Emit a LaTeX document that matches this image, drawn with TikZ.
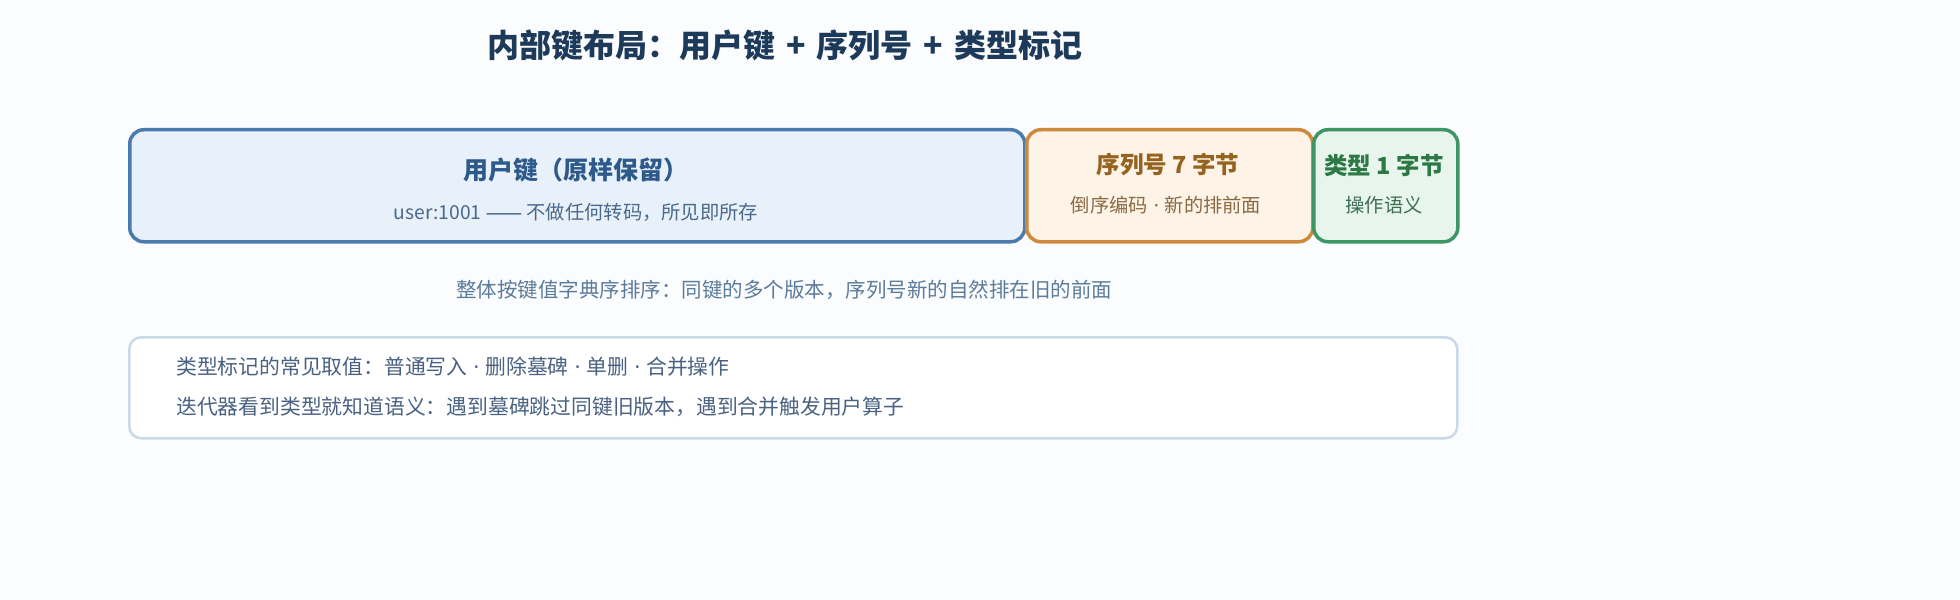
\documentclass[tikz,border=0pt]{standalone}
\usepackage{fontspec}
\setmainfont{Noto Sans CJK SC}
\newfontfamily\dotfont{Noto Sans}
\usetikzlibrary{positioning}
\definecolor{bgc}{HTML}{FBFCFE}
\definecolor{titlec}{HTML}{1E3A5A}
\definecolor{ukborder}{HTML}{4A7BAC}
\definecolor{ukfill}{HTML}{E8F0F9}
\definecolor{uktitle}{HTML}{2D5A8A}
\definecolor{uksub}{HTML}{4A6A8C}
\definecolor{sqborder}{HTML}{CD8A3E}
\definecolor{sqfill}{HTML}{FDF3E6}
\definecolor{sqtitle}{HTML}{95621F}
\definecolor{sqsub}{HTML}{8A6A45}
\definecolor{tyborder}{HTML}{3E9565}
\definecolor{tyfill}{HTML}{E7F5EC}
\definecolor{tytitle}{HTML}{2E7845}
\definecolor{tysub}{HTML}{3E6E52}
\definecolor{noteborder}{HTML}{C9D9E7}
\definecolor{notefill}{HTML}{FFFFFF}
\definecolor{notetext}{HTML}{4A6282}
\definecolor{captc}{HTML}{5B7B9B}
\newcommand{\fsz}[1]{\fontsize{#1bp}{#1bp}\selectfont}
\newcommand{\md}{\hspace{0.3em}{\dotfont ·}\hspace{0.3em}}
\begin{document}
\begin{tikzpicture}[x=1bp,y=-1bp,
  fieldbox/.style={draw, line width=3.5bp, rounded corners=14bp, inner sep=0pt, anchor=north west},
  notebox/.style={draw=noteborder, fill=notefill, line width=2.5bp, rounded corners=12bp, inner sep=0pt, anchor=north west},
  ftitle/.style={font=\fsz{23.5}\bfseries, inner sep=0pt, anchor=center},
  fsub/.style={font=\fsz{19.3}, inner sep=0pt, anchor=center},
  noteline/.style={font=\fsz{20.8}, text=notetext, inner sep=0pt, anchor=west}]
\fill[bgc] (0,0) rectangle (1960,600);
\useasboundingbox (0,0) rectangle (1960,600);

\node[font=\fsz{32}\bfseries, text=titlec, inner sep=0pt] (title) at (785,45) {内部键布局：用户键\hspace{11bp}+\hspace{11bp}序列号\hspace{11bp}+\hspace{11bp}类型标记};

\node[fieldbox, draw=ukborder, fill=ukfill, minimum width=895bp, minimum height=112bp] (uk) at (128,128) {};
\node[fieldbox, draw=sqborder, fill=sqfill, minimum width=286bp, minimum height=112bp] (sq) at (1025,128) {};
\node[fieldbox, draw=tyborder, fill=tyfill, minimum width=144bp, minimum height=112bp] (ty) at (1312,128) {};

\node[ftitle, font=\fsz{25}\bfseries, text=uktitle] (ukt) at (575.5,170) {用户键（原样保留）};
\node[fsub, text=uksub] (uks) at (576,212) {user:1001 {\dotfont —\kern-0.12em—} 不做任何转码，所见即所存};

\node[ftitle, text=sqtitle] (sqt) at (1168,165) {序列号 7 字节};
\node[fsub, text=sqsub] (sqs) at (1166,205) {倒序编码\md 新的排前面};

\node[ftitle, text=tytitle] (tyt) at (1384,165) {类型 1 字节};
\node[fsub, text=tysub] (tys) at (1384,205) {操作语义};

\node[font=\fsz{20.5}, text=captc, inner sep=0pt] (cap) at (784,290) {整体按键值字典序排序：同键的多个版本，序列号新的自然排在旧的前面};

\node[notebox, minimum width=1328bp, minimum height=101bp] (note) at (128,336) {};
\node[noteline] (n1) at (176,367) {类型标记的常见取值：普通写入\md 删除墓碑\md 单删\md 合并操作};
\node[noteline] (n2) at (176,407) {迭代器看到类型就知道语义：遇到墓碑跳过同键旧版本，遇到合并触发用户算子};
\end{tikzpicture}
\end{document}
